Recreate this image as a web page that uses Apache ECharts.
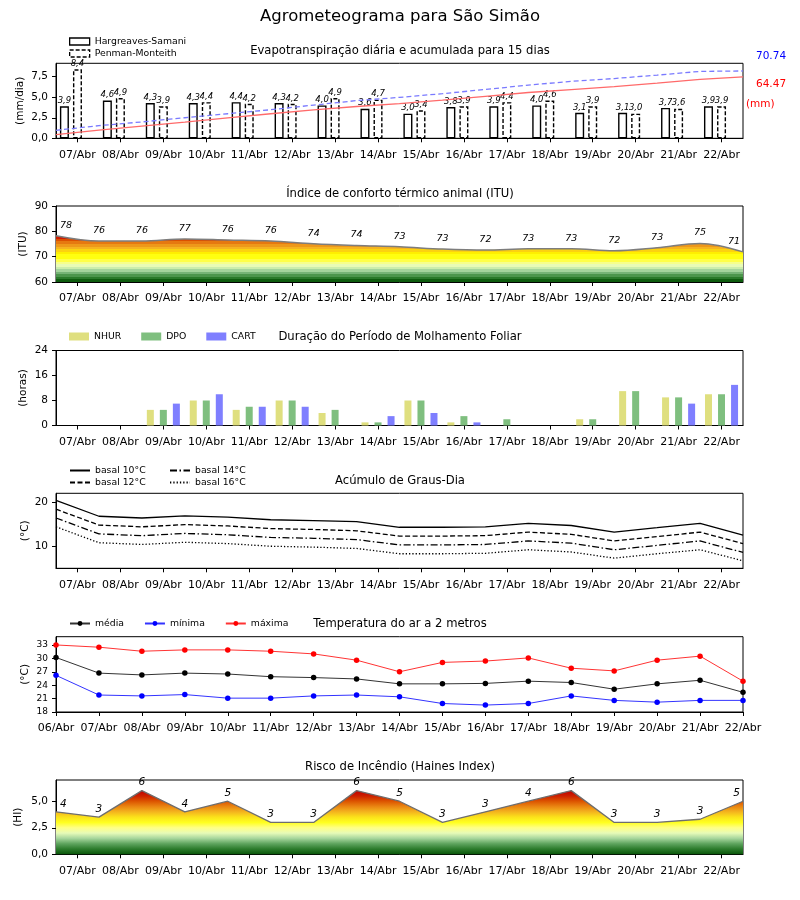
<!DOCTYPE html>
<html><head><meta charset="utf-8">
<script src="https://cdn.jsdelivr.net/npm/echarts@6/dist/echarts.min.js"></script>
<style>html,body{margin:0;padding:0;background:#fff}#c{width:800px;height:900px}</style>
</head><body><div id="c"></div>
<script>
// ---------------- DATA ----------------
const days = ['07/Abr','08/Abr','09/Abr','10/Abr','11/Abr','12/Abr','13/Abr','14/Abr','15/Abr','16/Abr','17/Abr','18/Abr','19/Abr','20/Abr','21/Abr','22/Abr'];
const tempDays = ['06/Abr','07/Abr','08/Abr','09/Abr','10/Abr','11/Abr','12/Abr','13/Abr','14/Abr','15/Abr','16/Abr','17/Abr','18/Abr','19/Abr','20/Abr','21/Abr','22/Abr'];
// day boundaries (00h of each day) used by the continuous series
const boundaries = ['07/Abr 00h','08/Abr 00h','09/Abr 00h','10/Abr 00h','11/Abr 00h','12/Abr 00h','13/Abr 00h','14/Abr 00h','15/Abr 00h','16/Abr 00h','17/Abr 00h','18/Abr 00h','19/Abr 00h','20/Abr 00h','21/Abr 00h','22/Abr 00h','23/Abr 00h'];

const etHS = [3.9,4.6,4.3,4.3,4.4,4.3,4.0,3.6,3.0,3.8,3.9,4.0,3.1,3.1,3.7,3.9];
const etPM = [8.4,4.9,3.9,4.4,4.2,4.2,4.9,4.7,3.4,3.9,4.4,4.6,3.9,3.0,3.6,3.9];
const etHSacc = [3.9,8.5,12.8,17.1,21.5,25.8,29.8,33.4,36.4,40.2,44.1,48.1,51.2,54.3,58.0,61.9,64.47];
const etPMacc = [8.4,13.3,17.2,21.6,25.8,30.0,34.9,39.6,43.0,46.9,51.3,55.9,59.8,62.8,66.4,70.3,70.74];

const ituVals   = [78.3,76.2,76.2,77.0,76.6,76.2,75.1,74.4,73.9,73.0,72.6,73.1,73.1,72.3,73.5,75.2,71.9];
const ituLabels = [78,76,76,77,76,76,74,74,73,73,72,73,73,72,73,75,71];

const nhur = [0,0,5,8,5,8,4,1,8,1,0,0,2,11,9,10];
const dpo  = [0,0,5,8,6,8,5,1,8,3,2,0,2,11,9,10];
const cart = [0,0,7,10,6,6,0,3,4,1,0,0,0,0,7,13];

const gd10 = [20.4,16.8,16.4,16.9,16.6,16.0,15.8,15.6,14.3,14.3,14.4,15.2,14.7,13.2,14.2,15.2,12.5];
const gd12 = [18.4,14.8,14.4,14.9,14.6,14.0,13.8,13.5,12.3,12.3,12.4,13.2,12.7,11.2,12.2,13.2,10.6];
const gd14 = [16.4,12.8,12.4,12.9,12.6,12.0,11.8,11.5,10.3,10.3,10.4,11.2,10.7,9.2,10.2,11.2,8.6];
const gd16 = [14.4,10.8,10.4,10.9,10.6,10.0,9.8,9.5,8.3,8.3,8.4,9.2,8.7,7.3,8.3,9.2,6.7];

const tMean = [30.2,26.7,26.3,26.7,26.5,25.9,25.7,25.4,24.3,24.3,24.4,24.9,24.6,23.1,24.3,25.1,22.4];
const tMin  = [26.2,21.8,21.6,21.9,21.1,21.1,21.6,21.8,21.4,19.9,19.55,19.9,21.6,20.6,20.2,20.6,20.6];
const tMax  = [33.0,32.5,31.6,31.9,31.9,31.6,31.0,29.6,27.0,29.1,29.4,30.1,27.8,27.2,29.6,30.5,24.9];

const hainesVals   = [4,3.5,6,4,5,3,3,6,5,3,4,5,6,3,3,3.3,5];
const hainesLabels = [4,3,6,4,5,3,3,6,5,3,3,4,6,3,3,3,5];

const etTicks = [0,2.5,5,7.5];
const ituTicks = [60,70,80,90];
const hourTicks = [0,8,16,24];
const gdTicks = [10,20];
const tempTicks = [18,21,24,27,30,33];
const hiTicks = [0,2.5,5];

// colour bands (value from which colour applies)
const ituBands = [[60,'#0e5c0e'],[61,'#2a7a2a'],[62,'#4c964c'],[63,'#76b476'],[64,'#a4d49c'],[65,'#cbedac'],[66,'#e8fbb6'],[67,'#f6ff8c'],[68,'#ffff48'],[69,'#ffff10'],[71,'#ffef00'],[72,'#fcd210'],[73,'#f5b420'],[74,'#ee981a'],[75,'#e67810'],[76,'#dc5000'],[77,'#cf1c00'],[78,'#c80000']];
const hiStops = [[0,'#0a560a'],[0.5,'#2c7c2c'],[1.0,'#5ea45e'],[1.5,'#a6d69c'],[2.0,'#e6fbb8'],[2.5,'#ffff86'],[3.0,'#ffff20'],[3.5,'#fbe21a'],[4.0,'#f4b41e'],[4.5,'#ea8612'],[5.0,'#dc5400'],[5.5,'#cc2000'],[6.0,'#c00000'],[7.0,'#c00000']];

// ---------------- LAYOUT ----------------
const FONT = 'DejaVu Sans';
const GL = 56, GR = 57;
const panels = [
  {top:63.3, h:75.0},
  {top:206, h:76},
  {top:350.5, h:75},
  {top:493.3, h:75},
  {top:636.7, h:75.3},
  {top:780, h:74.3}
];
const titleTops = [44.5, 187.5, 330.5, 474.5, 617.5, 760.5];
const subtitles = ['Evapotranspiração diária e acumulada para 15 dias','Índice de conforto térmico animal (ITU)','Duração do Período de Molhamento Foliar','Acúmulo de Graus-Dia','Temperatura do ar a 2 metros','Risco de Incêndio (Haines Index)'];

const comma1 = v => Number(v).toFixed(1).replace('.', ',');

function visX(gi, data, bgap){
  return {type:'category', gridIndex:gi, data:data, boundaryGap:bgap, position:'bottom',
    axisLine:{show:true, onZero:false, lineStyle:{color:'#000', width:1}},
    axisTick:{show:true, alignWithLabel:true, interval:0, length:4, lineStyle:{color:'#000', width:1}},
    axisLabel:{fontFamily:FONT, fontSize:11, color:'#000', margin:11, interval:0},
    splitLine:{show:false}};
}
function hidX(gi){
  return {type:'category', gridIndex:gi, data:boundaries, boundaryGap:false, show:false};
}
function yAx(gi, min, max, ticks, fmt, name, gap, fs){
  return {type:'value', gridIndex:gi, min:min, max:max, name:name, nameLocation:'middle', nameGap:gap, nameRotate:90,
    nameMoveOverlap:false,
    nameTextStyle:{fontFamily:FONT, fontSize:10.5, color:'#000'},
    axisLine:{show:true, lineStyle:{color:'#000', width:1}},
    axisTick:{show:true, length:4, customValues:ticks, lineStyle:{color:'#000'}},
    axisLabel:{fontFamily:FONT, fontSize:fs||10.5, color:'#000', margin:8, customValues:ticks, formatter:fmt},
    splitLine:{show:false}};
}

const xAxis = [
  visX(0, days, true),   // 0
  hidX(0),               // 1
  visX(1, days, true),   // 2
  hidX(1),               // 3
  visX(2, days, true),   // 4
  visX(3, days, true),   // 5
  hidX(3),               // 6
  visX(4, tempDays, false), // 7
  visX(5, days, true),   // 8
  hidX(5)                // 9
];
const yAxis = [
  yAx(0, 0, 9.13, etTicks, comma1, '(mm/dia)', 30),
  {type:'value', gridIndex:0, min:0, max:78.8, show:false, splitLine:{show:false}},
  yAx(1, 60, 90, ituTicks, v => String(v), '(ITU)', 27),
  yAx(2, 0, 24, hourTicks, v => String(v), '(horas)', 27),
  yAx(3, 5, 22, gdTicks, v => String(v), '(°C)', 25),
  yAx(4, 18, 34.85, tempTicks, v => String(v), '(°C)', 25, 9),
  yAx(5, 0, 7, hiTicks, comma1, '(HI)', 32)
];

const barLabel = {show:true, position:'top', distance:1, fontFamily:FONT, fontSize:8.5, fontStyle:'italic', color:'#000', formatter:p => comma1(p.value)};
const lineLabelItems = (vals, labels) => vals.map((v,i) => {
  const it = {value:v, label:{formatter:String(labels[i])}};
  if (i === 0) { it.label.align = 'left'; it.label.offset = [4,0]; }
  if (i === vals.length-1) { it.label.align = 'right'; it.label.offset = [-3,0]; }
  return it;
});

const series = [
  // panel 1
  {name:'Hargreaves-Samani', type:'bar', xAxisIndex:0, yAxisIndex:0, data:etHS, barWidth:9, barGap:'45%',
   itemStyle:{color:'#fff', borderColor:'#000', borderWidth:1.4}, label:barLabel, z:2},
  {name:'Penman-Monteith', type:'bar', xAxisIndex:0, yAxisIndex:0, data:etPM, barWidth:9, barGap:'45%',
   itemStyle:{color:'#fff', borderColor:'#000', borderWidth:1.4, borderType:[4,2]}, label:barLabel, z:2},
  {name:'_spacer', type:'bar', xAxisIndex:0, yAxisIndex:0, data:days.map(() => '-'), barWidth:9, barGap:'45%', silent:true},
  {name:'HS acumulada', type:'line', xAxisIndex:1, yAxisIndex:1, data:etHSacc, symbol:'none',
   lineStyle:{color:'#ff6a6a', width:1.3}, z:5},
  {name:'PM acumulada', type:'line', xAxisIndex:1, yAxisIndex:1, data:etPMacc, symbol:'none',
   lineStyle:{color:'#7a7aff', width:1.3, type:[5,3]}, z:5},
  // panel 2
  {id:'itu', name:'ITU', type:'line', xAxisIndex:3, yAxisIndex:2, data:lineLabelItems(ituVals, ituLabels),
   symbol:'circle', symbolSize:1, showSymbol:true, itemStyle:{color:'rgba(0,0,0,0)'}, smooth:0.35,
   lineStyle:{color:'#7d7d7d', width:1.5}, areaStyle:{origin:'start', opacity:1, color:'#ff0'},
   label:{show:true, position:'top', distance:5, fontFamily:FONT, fontSize:9.5, fontStyle:'italic', color:'#000'}},
  // panel 3
  {name:'NHUR', type:'bar', xAxisIndex:4, yAxisIndex:3, data:nhur, barWidth:7, barGap:'86%', itemStyle:{color:'#dfdf7f'}},
  {name:'DPO', type:'bar', xAxisIndex:4, yAxisIndex:3, data:dpo, barWidth:7, barGap:'86%', itemStyle:{color:'#7fbf7f'}},
  {name:'CART', type:'bar', xAxisIndex:4, yAxisIndex:3, data:cart, barWidth:7, barGap:'86%', itemStyle:{color:'#7f7fff'}},
  // panel 4
  {name:'basal 10°C', type:'line', xAxisIndex:6, yAxisIndex:4, data:gd10, symbol:'none', itemStyle:{color:'#000'}, lineStyle:{color:'#000', width:1.3, type:'solid'}},
  {name:'basal 12°C', type:'line', xAxisIndex:6, yAxisIndex:4, data:gd12, symbol:'none', itemStyle:{color:'#000'}, lineStyle:{color:'#000', width:1.3, type:[5,2.5]}},
  {name:'basal 14°C', type:'line', xAxisIndex:6, yAxisIndex:4, data:gd14, symbol:'none', itemStyle:{color:'#000'}, lineStyle:{color:'#000', width:1.3, type:[7,2.5,1.5,2.5]}},
  {name:'basal 16°C', type:'line', xAxisIndex:6, yAxisIndex:4, data:gd16, symbol:'none', itemStyle:{color:'#000'}, lineStyle:{color:'#000', width:1.3, type:[1.3,2]}},
  // panel 5
  {name:'média', type:'line', xAxisIndex:7, yAxisIndex:5, data:tMean, symbol:'circle', symbolSize:5.5,
   itemStyle:{color:'#000'}, lineStyle:{color:'#000', width:1, opacity:0.8}},
  {name:'mínima', type:'line', xAxisIndex:7, yAxisIndex:5, data:tMin, symbol:'circle', symbolSize:5.5,
   itemStyle:{color:'#0000ff'}, lineStyle:{color:'#0000ff', width:1, opacity:0.8}},
  {name:'máxima', type:'line', xAxisIndex:7, yAxisIndex:5, data:tMax, symbol:'circle', symbolSize:5.5,
   itemStyle:{color:'#ff0000'}, lineStyle:{color:'#ff0000', width:1, opacity:0.8}},
  // panel 6
  {id:'haines', name:'Haines', type:'line', xAxisIndex:9, yAxisIndex:6, data:lineLabelItems(hainesVals, hainesLabels),
   symbol:'circle', symbolSize:1, showSymbol:true, itemStyle:{color:'rgba(0,0,0,0)'},
   lineStyle:{color:'#6e6e6e', width:1.3}, areaStyle:{origin:'start', opacity:1, color:'#ff0'},
   label:{show:true, position:'top', distance:2, fontFamily:FONT, fontSize:10.5, fontStyle:'italic', color:'#000'}}
];

const legTxt = {fontFamily:FONT, fontSize:9.3, color:'#000'};
const noSym = {opacity:0};
const legend = [
  {orient:'vertical', left:64, top:32, itemWidth:20, itemHeight:7, itemGap:3, textStyle:legTxt, selectedMode:false,
   data:[{name:'Hargreaves-Samani', icon:'rect', itemStyle:{color:'#fff', borderColor:'#000', borderWidth:1.3}},
         {name:'Penman-Monteith', icon:'rect', itemStyle:{color:'#fff', borderColor:'#000', borderWidth:1.3, borderType:[4,2]}}]},
  {orient:'horizontal', left:64, top:327, itemWidth:20, itemHeight:8, itemGap:20, textStyle:legTxt, selectedMode:false,
   data:[{name:'NHUR', icon:'rect'},{name:'DPO', icon:'rect'},{name:'CART', icon:'rect'}]},
  {orient:'vertical', left:64, top:461, itemWidth:20, itemHeight:8, itemGap:3, textStyle:legTxt, selectedMode:false,
   data:[{name:'basal 10°C', itemStyle:noSym},{name:'basal 12°C', itemStyle:noSym}]},
  {orient:'vertical', left:164, top:461, itemWidth:20, itemHeight:8, itemGap:3, textStyle:legTxt, selectedMode:false,
   data:[{name:'basal 14°C', itemStyle:noSym},{name:'basal 16°C', itemStyle:noSym}]},
  {orient:'horizontal', left:64, top:614, itemWidth:20, itemHeight:6, itemGap:20, textStyle:legTxt, selectedMode:false,
   data:['média','mínima','máxima']}
];

const title = [{text:'Agrometeograma para São Simão', left:'center', top:8, padding:0,
  textStyle:{fontFamily:FONT, fontSize:16.5, fontWeight:'normal', color:'#000'}}].concat(
  subtitles.map((s,i) => ({text:s, left:'center', top:titleTops[i], padding:0,
    textStyle:{fontFamily:FONT, fontSize:11.6, fontWeight:'normal', color:'#000'}})));

const option = {
  animation:false,
  backgroundColor:'#fff',
  textStyle:{fontFamily:FONT},
  title:title,
  legend:legend,
  grid:panels.map(p => ({left:GL, right:GR, top:p.top, height:p.h, show:true, borderColor:'#000', borderWidth:1,
    backgroundColor:'transparent', containLabel:false, outerBoundsMode:'none'})),
  xAxis:xAxis,
  yAxis:yAxis,
  series:series,
  graphic:[
    {type:'text', left:756, top:51, style:{text:etPMacc[etPMacc.length-1].toFixed(2), fill:'#0000ff', font:'10.5px "DejaVu Sans"'}},
    {type:'text', left:756, top:79, style:{text:etHSacc[etHSacc.length-1].toFixed(2), fill:'#ff0000', font:'10.5px "DejaVu Sans"'}},
    {type:'text', left:746, top:99, style:{text:'(mm)', fill:'#ff0000', font:'10.5px "DejaVu Sans"'}}
  ]
};

const chart = echarts.init(document.getElementById('c'), null, {renderer:'canvas'});
chart.setOption(option);

function bandGradient(yIdx, bands, vmin, vmax, stepped){
  const yb = chart.convertToPixel({yAxisIndex:yIdx}, vmin);
  const yt = chart.convertToPixel({yAxisIndex:yIdx}, vmax);
  const stops = [];
  for (let i = 0; i < bands.length; i++){
    const a = (bands[i][0]-vmin)/(vmax-vmin);
    if (stepped){
      const b = i+1 < bands.length ? (bands[i+1][0]-vmin)/(vmax-vmin) : 1;
      stops.push({offset:a, color:bands[i][1]}, {offset:b, color:bands[i][1]});
    } else {
      stops.push({offset:a, color:bands[i][1]});
    }
  }
  return new echarts.graphic.LinearGradient(0, yb, 0, yt, stops, true);
}
chart.setOption({series:[
  {id:'itu', areaStyle:{origin:'start', opacity:1, color:bandGradient(2, ituBands, 60, 90, true)}},
  {id:'haines', areaStyle:{origin:'start', opacity:1, color:bandGradient(6, hiStops, 0, 7, false)}}
]});
</script></body></html>
